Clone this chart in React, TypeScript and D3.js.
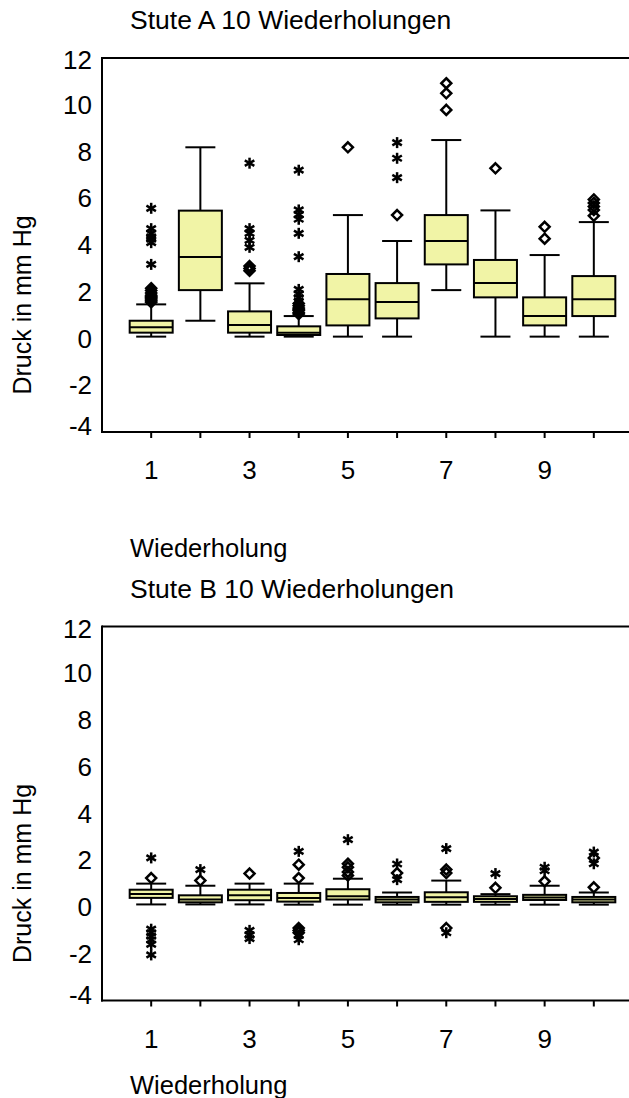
import React from "react";
import * as d3 from "d3";

const categories = [1, 2, 3, 4, 5, 6, 7, 8, 9, 10];
const xTickLabels = ["1", "", "3", "", "5", "", "7", "", "9", ""];
const yTicks = [12, 10, 8, 6, 4, 2, 0, -2, -4];

const titleA = "Stute A 10 Wiederholungen";
const titleB = "Stute B 10 Wiederholungen";
const yTitle = "Druck in mm Hg";
const xTitle = "Wiederholung";

// Stute A
const aLow = [0.08, 0.76, 0.08, 0.08, 0.08, 0.08, 2.07, 0.08, 0.08, 0.08];
const aQ1 = [0.25, 2.07, 0.25, 0.15, 0.56, 0.86, 3.17, 1.76, 0.56, 0.96];
const aMed = [0.48, 3.49, 0.58, 0.25, 1.68, 1.56, 4.17, 2.37, 0.96, 1.68];
const aQ3 = [0.76, 5.47, 1.16, 0.52, 2.76, 2.37, 5.28, 3.36, 1.76, 2.67];
const aHigh = [1.46, 8.18, 2.36, 0.96, 5.28, 4.17, 8.49, 5.48, 3.57, 4.98];
const aDiamonds = [
  [1.55, 1.6, 1.65, 1.7, 1.75, 1.8, 1.85, 1.95, 2.05, 2.15],
  [],
  [2.9, 3.0, 3.1],
  [1.05, 1.1, 1.2, 1.25, 1.3, 1.4, 1.5],
  [8.18],
  [5.28],
  [9.78, 10.49, 10.92],
  [7.28],
  [4.27, 4.78],
  [5.25, 5.5, 5.65, 5.8, 5.95],
];
const aStars = [
  [3.17, 4.1, 4.25, 4.35, 4.5, 4.7, 5.57],
  [],
  [3.9, 4.2, 4.5, 4.7, 7.5],
  [1.6, 1.75, 1.9, 2.1, 3.5, 4.5, 5.1, 5.3, 5.5, 7.2],
  [],
  [6.88, 7.71, 8.38],
  [],
  [],
  [],
  [],
];

// Stute B
const bLow = [0.11, 0.11, 0.11, 0.1, 0.1, 0.1, 0.1, 0.1, 0.1, 0.1];
const bQ1 = [0.39, 0.2, 0.29, 0.23, 0.32, 0.2, 0.22, 0.22, 0.3, 0.2];
const bMed = [0.56, 0.32, 0.5, 0.39, 0.46, 0.32, 0.42, 0.34, 0.41, 0.32];
const bQ3 = [0.74, 0.5, 0.74, 0.6, 0.76, 0.43, 0.63, 0.46, 0.52, 0.43];
const bHigh = [1.0, 0.91, 1.0, 1.0, 1.21, 0.62, 1.13, 0.55, 0.91, 0.62];
const bDiamonds = [
  [1.24],
  [1.13],
  [1.43],
  [1.24, 1.81, -0.9, -1.0, -1.1],
  [1.35, 1.5, 1.7, 1.85],
  [1.45],
  [1.45, 1.6, -0.9],
  [0.82],
  [1.1],
  [0.84, 2.1],
];
const bStars = [
  [2.1, -0.95, -1.1, -1.25, -1.4, -1.6, -2.05],
  [1.6],
  [-1.0, -1.2, -1.35],
  [2.38, -1.2, -1.4],
  [2.88],
  [1.17, 1.84],
  [2.5, -1.1],
  [1.43],
  [1.55, 1.7],
  [1.85, 2.35],
];

const FONT = "'Liberation Sans', Arial, sans-serif";
const FILL = "#f1f4a6";

type PanelProps = {
  offset: number;
  title: string;
  xTitleY: number;
  low: number[];
  q1: number[];
  med: number[];
  q3: number[];
  high: number[];
  diamonds: number[][];
  stars: number[][];
};

function Diamond({ x, y }: { x: number; y: number }) {
  const r = 5;
  return (
    <path
      d={`M${x},${y - r}L${x + r},${y}L${x},${y + r}L${x - r},${y}Z`}
      fill="none"
      stroke="black"
      strokeWidth={2.5}
    />
  );
}

function Star({ x, y }: { x: number; y: number }) {
  const r = 5.5;
  const dx = r * Math.cos(Math.PI / 6);
  const dy = r * Math.sin(Math.PI / 6);
  return (
    <g stroke="black" strokeWidth={2.5}>
      <line x1={x} y1={y - r} x2={x} y2={y + r} />
      <line x1={x - dx} y1={y - dy} x2={x + dx} y2={y + dy} />
      <line x1={x - dx} y1={y + dy} x2={x + dx} y2={y - dy} />
    </g>
  );
}

function Panel(p: PanelProps) {
  const top = 58 + p.offset;
  const bottom = 432 + p.offset;
  const left = 102;
  const right = 643;
  const y = d3.scaleLinear().domain([-4, 12]).range([bottom, top]);
  const x = d3.scaleLinear().domain([0, 11]).range([left, right]);
  const bw = 43;
  const cw = 30;
  return (
    <g fontFamily={FONT}>
      <text x={130} y={29 + p.offset} fontSize={26.5}>
        {p.title}
      </text>
      {/* frame */}
      <line x1={left} y1={top} x2={right} y2={top} stroke="black" strokeWidth={2} />
      <line x1={left} y1={top - 1} x2={left} y2={bottom + 1} stroke="black" strokeWidth={2} />
      <line x1={left - 1} y1={bottom} x2={right} y2={bottom} stroke="black" strokeWidth={2} />
      {/* y tick labels */}
      {yTicks.map((t, i) => {
        let adj = 0;
        if (i === 0) adj = 2;
        if (i === yTicks.length - 1) adj = -6;
        return (
          <text
            key={t}
            x={92}
            y={y(t) + adj}
            dy="0.35em"
            textAnchor="end"
            fontSize={26}
          >
            {t}
          </text>
        );
      })}
      {/* y title */}
      <text
        transform={`translate(${31},${305 + p.offset}) rotate(-90)`}
        textAnchor="middle"
        fontSize={25}
      >
        {yTitle}
      </text>
      {/* x ticks */}
      {categories.map((c, i) => (
        <g key={c}>
          <line x1={x(c)} y1={bottom} x2={x(c)} y2={bottom + 6} stroke="black" strokeWidth={2} />
          {xTickLabels[i] && (
            <text x={x(c)} y={bottom + 47} textAnchor="middle" fontSize={26}>
              {xTickLabels[i]}
            </text>
          )}
        </g>
      ))}
      <text x={130} y={p.xTitleY} fontSize={25.5}>
        {xTitle}
      </text>
      {/* boxes */}
      {categories.map((c, i) => {
        const cx = x(c);
        return (
          <g key={"b" + c} stroke="black" strokeWidth={2}>
            <line x1={cx} y1={y(p.high[i])} x2={cx} y2={y(p.q3[i])} />
            <line x1={cx} y1={y(p.low[i])} x2={cx} y2={y(p.q1[i])} />
            <line x1={cx - cw / 2} y1={y(p.high[i])} x2={cx + cw / 2} y2={y(p.high[i])} />
            <line x1={cx - cw / 2} y1={y(p.low[i])} x2={cx + cw / 2} y2={y(p.low[i])} />
            <rect
              x={cx - bw / 2}
              y={y(p.q3[i])}
              width={bw}
              height={y(p.q1[i]) - y(p.q3[i])}
              fill={FILL}
            />
            <line x1={cx - bw / 2} y1={y(p.med[i])} x2={cx + bw / 2} y2={y(p.med[i])} />
            {p.diamonds[i].map((v, j) => (
              <Diamond key={"d" + j} x={cx} y={y(v)} />
            ))}
            {p.stars[i].map((v, j) => (
              <Star key={"s" + j} x={cx} y={y(v)} />
            ))}
          </g>
        );
      })}
    </g>
  );
}

export default function App() {
  return (
    <svg
      width={629}
      height={1098}
      style={{ position: "absolute", left: 0, top: 0, background: "white" }}
    >
      <rect x={0} y={0} width={629} height={1098} fill="white" />
      <Panel
        offset={0}
        title={titleA}
        xTitleY={557}
        low={aLow}
        q1={aQ1}
        med={aMed}
        q3={aQ3}
        high={aHigh}
        diamonds={aDiamonds}
        stars={aStars}
      />
      <Panel
        offset={568.5}
        title={titleB}
        xTitleY={1094}
        low={bLow}
        q1={bQ1}
        med={bMed}
        q3={bQ3}
        high={bHigh}
        diamonds={bDiamonds}
        stars={bStars}
      />
    </svg>
  );
}
